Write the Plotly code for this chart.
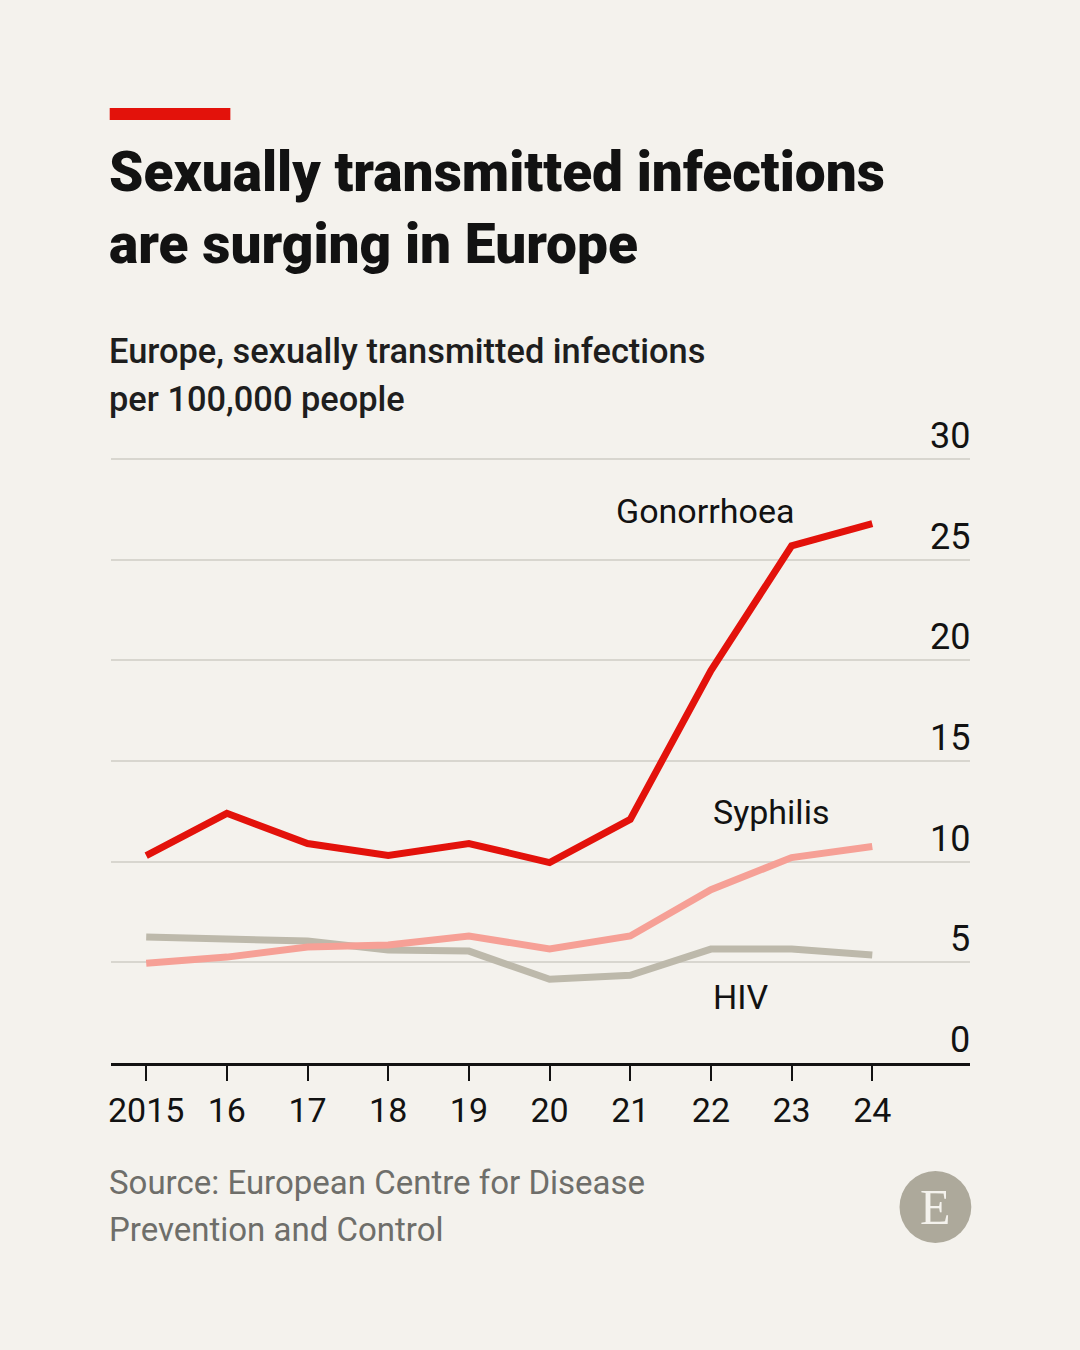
import plotly.graph_objects as go

# Datos (casos por 100.000 habitantes)
years = [2015, 2016, 2017, 2018, 2019, 2020, 2021, 2022, 2023, 2024]
year_labels = ["2015", "16", "17", "18", "19", "20", "21", "22", "23", "24"]
gonorrhoea = [10.3, 12.4, 10.9, 10.3, 10.9, 9.95, 12.1, 19.5, 25.7, 26.8]
syphilis = [4.95, 5.25, 5.75, 5.85, 6.3, 5.65, 6.3, 8.6, 10.2, 10.75]
hiv = [6.25, 6.15, 6.05, 5.6, 5.55, 4.15, 4.35, 5.65, 5.65, 5.35]
y_ticks = [0, 5, 10, 15, 20, 25, 30]

W, H = 1080, 1350
BG = "#F4F2ED"
RED = "#E3120B"
PINK = "#F6A096"
GREY = "#BDB9AB"
FONT = "Roboto, Liberation Sans, sans-serif"


def px_x(p):
    return p / W


def px_y(p):
    return 1 - p / H


fig = go.Figure()

# orden de dibujo: HIV debajo, luego sifilis, luego gonorrea
for vals, color in [(hiv, GREY), (syphilis, PINK), (gonorrhoea, RED)]:
    fig.add_trace(
        go.Scatter(
            x=years,
            y=vals,
            mode="lines",
            line=dict(color=color, width=7),
            hoverinfo="skip",
        )
    )

annotations = []

# etiquetas del eje y, encima de las lineas de rejilla
for v in y_ticks:
    annotations.append(dict(
        text=str(v), xref="paper", x=px_x(972), xanchor="right",
        yref="y", y=v, yanchor="bottom", showarrow=False,
        font=dict(family=FONT, size=36, color="#121212"),
    ))

# etiquetas de las series
series_labels = [
    ("Gonorrhoea", 2020.8, 27.45),
    ("Syphilis", 2022.0, 12.45),
    ("HIV", 2022.0, 3.25),
]
for txt, xv, yv in series_labels:
    annotations.append(dict(
        text=txt, x=xv, y=yv, xref="x", yref="y", xanchor="left",
        yanchor="middle", showarrow=False,
        font=dict(family=FONT, size=34, color="#121212"),
    ))

# titulo, subtitulo y fuente
text_lines = [
    ("Sexually transmitted infections", 172, 55, 900, "#121212"),
    ("are surging in Europe", 244, 55, 900, "#121212"),
    ("Europe, sexually transmitted infections", 351, 34.4, 500, "#1e1e1e"),
    ("per 100,000 people", 399, 34.4, 500, "#1e1e1e"),
    ("Source: European Centre for Disease", 1182, 33, 400, "#6E6E6A"),
    ("Prevention and Control", 1229, 33, 400, "#6E6E6A"),
]
for txt, yc, size, weight, color in text_lines:
    annotations.append(dict(
        text=txt, xref="paper", yref="paper", x=px_x(104), y=px_y(yc),
        xanchor="left", yanchor="middle", showarrow=False,
        font=dict(family=FONT, size=size, weight=weight, color=color),
    ))

# logo
annotations.append(dict(
    text="E", xref="paper", yref="paper", x=px_x(935), y=px_y(1207),
    xanchor="center", yanchor="middle", showarrow=False,
    font=dict(family="Liberation Serif, DejaVu Serif, serif", size=50, color=BG),
))

shapes = [
    dict(type="rect", xref="paper", yref="paper",
         x0=px_x(107), x1=px_x(228), y0=px_y(120), y1=px_y(108),
         fillcolor=RED, line=dict(width=0)),
    dict(type="circle", xref="paper", yref="paper",
         x0=px_x(899), x1=px_x(971), y0=px_y(1243), y1=px_y(1171),
         fillcolor="#ADA99B", line=dict(width=0), layer="below"),
]

fig.update_layout(
    width=W,
    height=H,
    margin=dict(l=0, r=0, t=0, b=0),
    paper_bgcolor=BG,
    plot_bgcolor=BG,
    showlegend=False,
    annotations=annotations,
    shapes=shapes,
    xaxis=dict(
        domain=[px_x(108), px_x(970)],
        range=[2014.56, 2025.215],
        tickvals=years,
        ticktext=year_labels,
        showgrid=False,
        zeroline=False,
        showline=True,
        linecolor="#121212",
        linewidth=2.5,
        ticks="outside",
        ticklen=16,
        tickwidth=2,
        tickcolor="#121212",
        tickfont=dict(family=FONT, size=34, color="#121212"),
        fixedrange=True,
    ),
    yaxis=dict(
        # rango un poco por encima de 30 para que se vea la linea de 30
        domain=[px_y(1062.7), px_y(455.3)],
        range=[0, 30.2],
        tickvals=y_ticks,
        showticklabels=False,
        showgrid=True,
        gridcolor="#D8D6CF",
        gridwidth=2,
        zeroline=False,
        fixedrange=True,
    ),
)

fig.write_html(
    "out.html",
    config={"displayModeBar": False},
    post_script="document.body.style.margin = '0px';",
)
